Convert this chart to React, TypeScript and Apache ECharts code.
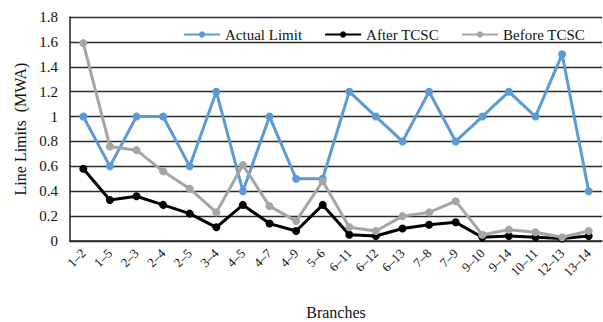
import React, { useEffect, useRef } from "react";
import * as echarts from "echarts";

const categories = ["1–2","1–5","2–3","2–4","2–5","3–4","4–5","4–7","4–9","5–6","6–11","6–12","6–13","7–8","7–9","9–10","9–14","10–11","12–13","13–14"];
const actualLimit = [1, 0.6, 1, 1, 0.6, 1.2, 0.4, 1, 0.5, 0.5, 1.2, 1, 0.8, 1.2, 0.8, 1, 1.2, 1, 1.5, 0.4];
const afterTCSC = [0.58, 0.33, 0.36, 0.29, 0.22, 0.11, 0.29, 0.14, 0.08, 0.29, 0.05, 0.04, 0.1, 0.13, 0.15, 0.03, 0.04, 0.03, 0.02, 0.04];
const beforeTCSC = [1.59, 0.76, 0.73, 0.56, 0.42, 0.23, 0.61, 0.28, 0.16, 0.48, 0.11, 0.08, 0.2, 0.23, 0.32, 0.05, 0.09, 0.07, 0.03, 0.08];

const FONT = "Liberation Serif";

export default function App() {
  const ref = useRef<HTMLDivElement>(null);
  useEffect(() => {
    const chart = echarts.init(ref.current!, null, { renderer: "svg" });
    const mk = (name: string, data: number[], color: string) => ({
      name,
      type: "line",
      data,
      symbol: "circle",
      symbolSize: 8,
      itemStyle: { color },
      lineStyle: { color, width: 3 },
    });
    chart.setOption({
      animation: false,
      textStyle: { fontFamily: FONT },
      legend: {
        top: 27,
        left: 183,
        width: 420,
        padding: 0,
        itemWidth: 36,
        itemHeight: 8,
        itemGap: 22,
        textStyle: { fontFamily: FONT, fontSize: 15, color: "#111" },
        data: ["Actual Limit", "After TCSC", "Before TCSC"],
      },
      grid: { left: 70, right: 1, top: 17, bottom: 81, outerBoundsMode: "none", containLabel: false },
      xAxis: {
        type: "category",
        data: categories,
        boundaryGap: true,
        name: "Branches",
        nameLocation: "middle",
        nameGap: 63,
        nameTextStyle: { fontFamily: FONT, fontSize: 16, color: "#111" },
        axisLine: { lineStyle: { color: "#222", width: 1.5 } },
        axisTick: { show: false },
        axisLabel: { rotate: 45, fontFamily: FONT, fontSize: 13, color: "#111", margin: 10 },
      },
      yAxis: {
        type: "value",
        min: 0,
        max: 1.8,
        interval: 0.2,
        name: "Line Limits  (MWA)",
        nameLocation: "middle",
        nameGap: 39,
        nameTextStyle: { fontFamily: FONT, fontSize: 16, color: "#111" },
        axisLine: { show: true, lineStyle: { color: "#222", width: 1.5 } },
        axisTick: { show: false },
        axisLabel: {
          fontFamily: FONT,
          fontSize: 15,
          color: "#111",
          margin: 12,
          formatter: (v: number) => String(Math.round(v * 10) / 10),
        },
        splitLine: { lineStyle: { color: "#2a2a2a", width: 1.4 } },
      },
      series: [
        mk("Actual Limit", actualLimit, "#5B9BD5"),
        mk("After TCSC", afterTCSC, "#000000"),
        mk("Before TCSC", beforeTCSC, "#A5A5A5"),
      ],
    });
    return () => chart.dispose();
  }, []);
  return <div ref={ref} style={{ width: 603, height: 322, position: "absolute", left: 0, top: 0, background: "#fff" }} />;
}
